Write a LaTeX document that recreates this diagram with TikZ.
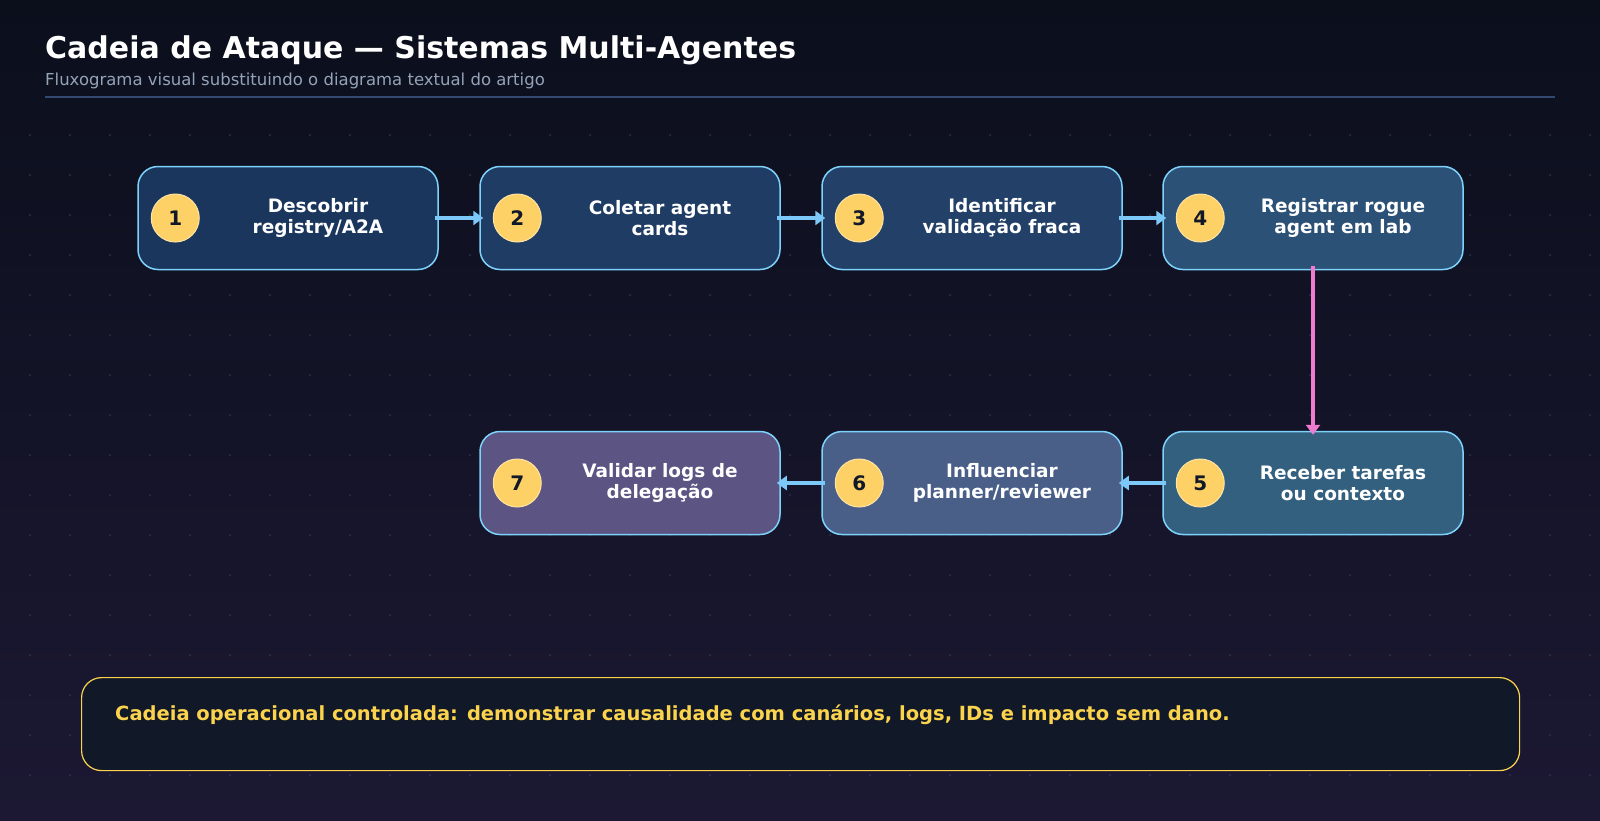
\documentclass[tikz,border=0pt]{standalone}
\usepackage{fontspec}
\setmainfont{DejaVu Sans}
\usetikzlibrary{positioning, arrows.meta}
\definecolor{bgtop}{HTML}{0B0F1C}
\definecolor{bgbot}{HTML}{1C1833}
\definecolor{edge}{HTML}{7DD3FC}
\definecolor{flow}{HTML}{7CC8F8}
\definecolor{pinkflow}{HTML}{F07CCF}
\definecolor{badge}{HTML}{FDD166}
\definecolor{gold}{HTML}{FCD34D}
\definecolor{subtle}{HTML}{94A3B8}
\definecolor{rule}{HTML}{334A70}
\definecolor{gridpt}{HTML}{2E3550}
\definecolor{notebg}{HTML}{111827}
\definecolor{fa}{HTML}{1B365D}
\definecolor{fb}{HTML}{1F3C64}
\definecolor{fc}{HTML}{234168}
\definecolor{fd}{HTML}{2C5177}
\definecolor{fe}{HTML}{346080}
\definecolor{ff}{HTML}{4A5F88}
\definecolor{fg}{HTML}{5C5482}
\tikzset{
  stage/.style={draw=edge, line width=1.5pt, rounded corners=20pt, minimum width=300pt, minimum height=103pt, inner sep=0pt},
  num/.style={circle, fill=badge, draw=badge!60!white, line width=1pt, minimum size=48pt, inner sep=0pt, font=\fontsize{20}{24}\selectfont\bfseries, text=notebg},
  lbl/.style={align=center, text=white, font=\fontsize{18.5}{21}\selectfont\bfseries},
  link/.style={flow, line width=4pt, -{Triangle[length=10pt,width=14pt]}, shorten <=-4pt, shorten >=-4pt}
}
\begin{document}
\begin{tikzpicture}[x=1pt, y=-1pt]
    % Background
    \shade[top color=bgtop, bottom color=bgbot] (0,0) rectangle (1600,820);
    \useasboundingbox (0,0) rectangle (1600,820);
    \foreach \gx in {30,70,...,1590}
      \foreach \gy in {135,175,...,800}
        \fill[gridpt] (\gx,\gy) circle (1pt);

    % Header
    \node[anchor=base west, text=white, font=\fontsize{30}{36}\selectfont\bfseries, inner sep=0pt] (title) at (45,58) {Cadeia de Ataque — Sistemas Multi-Agentes};
    \node[anchor=base west, text=subtle, font=\fontsize{16.5}{20}\selectfont, inner sep=0pt] (sub) at (45,85) {Fluxograma visual substituindo o diagrama textual do artigo};
    \draw[rule, line width=1.2pt] (45,97) -- (1555,97);

    % Steps
    \node[stage, fill=fa] (s1) at (288,218) {};
    \node[stage, fill=fb] (s2) at (630,218) {};
    \node[stage, fill=fc] (s3) at (972,218) {};
    \node[stage, fill=fd] (s4) at (1313,218) {};
    \node[stage, fill=fe] (s5) at (1313,483) {};
    \node[stage, fill=ff] (s6) at (972,483) {};
    \node[stage, fill=fg] (s7) at (630,483) {};

    \foreach \s/\n/\t in {s1/1/{Descobrir\\registry/A2A}, s2/2/{Coletar agent\\cards}, s3/3/{Identificar\\validação fraca}, s4/4/{Registrar rogue\\agent em lab}, s5/5/{Receber tarefas\\ou contexto}, s6/6/{Influenciar\\planner/reviewer}, s7/7/{Validar logs de\\delegação}} {
      \node[num] (n\n) at ([xshift=38pt]\s.west) {\n};
      \node[lbl] (t\n) at ([xshift=30pt]\s.center) {\t};
    }

    % Connectors
    \draw[link] (s1) -- (s2);
    \draw[link] (s2) -- (s3);
    \draw[link] (s3) -- (s4);
    \draw[link, pinkflow] (s4) -- (s5);
    \draw[link] (s5) -- (s6);
    \draw[link] (s6) -- (s7);

    % Note
    \node[draw=gold, fill=notebg, line width=1.2pt, rounded corners=20pt, minimum width=1438pt, minimum height=93pt, anchor=north west] (note) at (81,677) {};
    \node[anchor=base west, text=gold, font=\fontsize{19.5}{24}\selectfont\bfseries, inner sep=0pt] (notetxt) at (115,720) {Cadeia operacional controlada: demonstrar causalidade com canários, logs, IDs e impacto sem dano.};
\end{tikzpicture}
\end{document}
